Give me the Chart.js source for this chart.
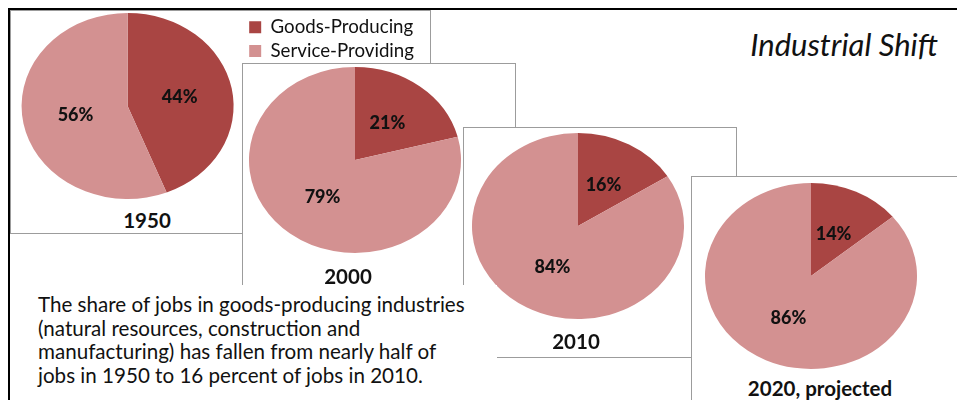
<!DOCTYPE html>
<html>
<head>
<meta charset="utf-8">
<script src="https://cdn.jsdelivr.net/npm/chart.js@4.4.1/dist/chart.umd.min.js"></script>
<style>
  html, body { margin: 0; padding: 0; background: #fff; }
  body { width: 957px; height: 400px; position: relative; overflow: hidden; font-family: Lato, "Open Sans", sans-serif; color: #111; }
  .frame { position: absolute; left: 8px; top: 8px; width: 960px; height: 400px; border-left: 2px solid #000; border-top: 2px solid #000; }
  .box { position: absolute; background: #fff; border: 1px solid #9c9c9c; box-sizing: border-box; }
  .box canvas { position: absolute; }
  .year { position: absolute; width: 240px; text-align: center; font-weight: bold; font-size: 20.5px; line-height: 22px; color: #111; }
  .title { position: absolute; left: 600px; top: 26px; width: 338px; text-align: right; font-style: italic; font-size: 31px; line-height: 36px; color: #111; }
  .note { position: absolute; left: 20px; top: 285px; width: 477px; height: 120px; background: #fff; box-sizing: border-box; padding: 8px 0 0 18px; font-size: 20.6px; line-height: 23.7px; color: #111; white-space: nowrap; }
</style>
</head>
<body>
<div class="frame"></div>

<div class="box" id="box1" style="left:10px; top:10px; width:421px; height:224px;">
  <canvas id="pie1"></canvas>
  <div class="year" id="year1"></div>
</div>
<div class="box" id="box2" style="left:242px; top:63px; width:274px; height:240px;">
  <canvas id="pie2"></canvas>
  <div class="year" id="year2"></div>
</div>
<div class="box" id="box3" style="left:463px; top:127px; width:274px; height:231px;">
  <canvas id="pie3"></canvas>
  <div class="year" id="year3"></div>
</div>
<div class="box" id="box4" style="left:691px; top:176px; width:300px; height:300px;">
  <canvas id="pie4"></canvas>
  <div class="year" id="year4"></div>
</div>

<div class="note">
  The share of jobs in goods-producing industries<br>
  (natural resources, construction and<br>
  manufacturing) has fallen from nearly half of<br>
  jobs in 1950 to 16 percent of jobs in 2010.
</div>
<div class="title">Industrial Shift</div>

<script>
const sectors = ['Goods-Producing', 'Service-Providing'];
const years = ['1950', '2000', '2010', '2020, projected'];
const goodsShare = [44, 21, 16, 14];
const serviceShare = [56, 79, 84, 86];
const sliceColors = ['#a94543', '#d39191'];

// pies are drawn as circles and then widened into ellipses
const widen = 1.14;

// where each pie sits inside its box (pie center, canvas is 240x190)
const pieCenters = [[118, 95], [112, 96], [114, 98], [119, 99]];
// year caption center, relative to the box
const captionCenters = [[136, 209], [105, 212], [112, 213], [128, 211]];

const ellipsePlugin = {
  id: 'ellipse',
  beforeDatasetsDraw(chart) {
    const arc = chart.getDatasetMeta(0).data[0];
    const ctx = chart.ctx;
    ctx.save();
    ctx.translate(arc.x, arc.y);
    ctx.scale(widen, 1);
    ctx.translate(-arc.x, -arc.y);
  },
  afterDatasetsDraw(chart) {
    chart.ctx.restore();
  }
};

// percent labels placed half way out along each slice's middle angle
const percentPlugin = {
  id: 'percentLabels',
  afterDatasetsDraw(chart) {
    const ctx = chart.ctx;
    const meta = chart.getDatasetMeta(0);
    const values = chart.data.datasets[0].data;
    ctx.save();
    ctx.font = '900 18px Lato, "Open Sans", sans-serif';
    ctx.fillStyle = '#111';
    ctx.textAlign = 'center';
    ctx.textBaseline = 'middle';
    meta.data.forEach((arc, i) => {
      const mid = (arc.startAngle + arc.endAngle) / 2;
      const r = arc.outerRadius * 0.5;
      ctx.fillText(values[i] + '%', arc.x + Math.cos(mid) * r * widen, arc.y + Math.sin(mid) * r);
    });
    ctx.restore();
  }
};

function makePie(i) {
  const canvas = document.getElementById('pie' + (i + 1));
  const withLegend = i === 0;
  const w = withLegend ? 415 : 240;
  const h = 190;
  canvas.width = w;
  canvas.height = h;
  canvas.style.width = w + 'px';
  canvas.style.height = h + 'px';
  canvas.style.left = (pieCenters[i][0] - 120) + 'px';
  canvas.style.top = (pieCenters[i][1] - 95) + 'px';

  const cap = document.getElementById('year' + (i + 1));
  cap.textContent = years[i];
  cap.style.left = (captionCenters[i][0] - 120) + 'px';
  cap.style.top = (captionCenters[i][1] - 11) + 'px';

  new Chart(canvas, {
    type: 'pie',
    data: {
      labels: sectors,
      datasets: [{
        data: [goodsShare[i], serviceShare[i]],
        backgroundColor: sliceColors,
        borderWidth: 0,
        clip: false
      }]
    },
    options: {
      responsive: false,
      animation: false,
      events: [],
      layout: { padding: { left: 2, top: 2, bottom: 2, right: withLegend ? 0 : 2 } },
      plugins: {
        tooltip: { enabled: false },
        legend: {
          display: withLegend,
          position: 'right',
          align: 'start',
          labels: {
            boxWidth: 12,
            boxHeight: 12,
            padding: 5,
            color: '#111',
            font: { family: 'Lato, "Open Sans", sans-serif', size: 18.7 }
          }
        }
      }
    },
    plugins: [ellipsePlugin, percentPlugin]
  });
}

years.forEach((_, i) => makePie(i));
</script>
</body>
</html>
